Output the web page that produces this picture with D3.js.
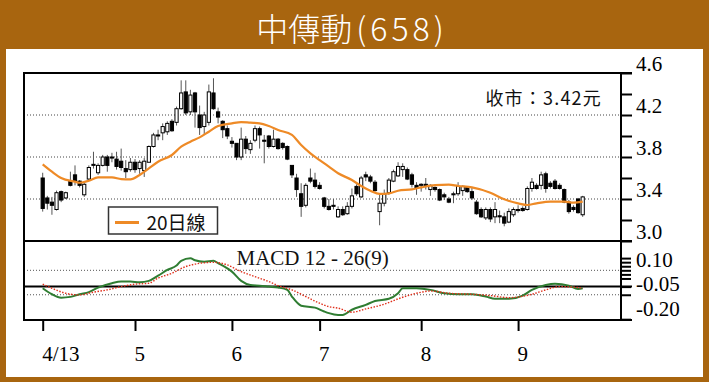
<!DOCTYPE html>
<html lang="zh-Hant">
<head>
<meta charset="utf-8">
<title>中傳動(658)</title>
<script src="https://cdn.jsdelivr.net/npm/d3@7"></script>
<style>
  body { margin: 0; background: #a8650f; }
  svg { display: block; }
  .serif { font-family: "Liberation Serif", "Times New Roman", serif; }
  .sans { font-family: "Noto Sans CJK TC", "Noto Sans", sans-serif; }
</style>
</head>
<body>
<svg id="chart" width="709" height="382"></svg>
<script>
// daily candles, 4/13 .. end of Sep (trading day index = position in array)
const dayOpen  = [3.60,3.41,3.37,3.30,3.47,3.41,3.57,3.63,3.57,3.44, 3.59,3.72,3.65,3.72,3.80,3.80,3.78,3.76,3.69,3.68,
                  3.75,3.69,3.67,3.75,3.90,4.01,4.03,4.04,4.14,4.13, 4.26,4.42,4.23,4.41,4.20,4.09,4.13,4.41,4.23,4.14,
                  4.07,3.95,3.93,3.80,3.97,3.87,3.96,4.07,3.96,4.00, 3.90,3.97,3.93,3.90,3.72,3.60,3.45,3.34,3.60,3.58,
                  3.53,3.41,3.33,3.34,3.23,3.30,3.26,3.33,3.52,3.42, 3.63,3.61,3.56,3.28,3.36,3.46,3.57,3.62,3.68,3.68,
                  3.63,3.53,3.53,3.54,3.49,3.51,3.49,3.44,3.40,3.44, 3.45,3.48,3.51,3.47,3.37,3.30,3.22,3.30,3.23,3.24,
                  3.23,3.18,3.25,3.29,3.31,3.30,3.50,3.53,3.53,3.64, 3.55,3.57,3.53,3.49,3.37,3.32,3.40,3.25];
const dayHigh  = [3.65,3.43,3.42,3.48,3.48,3.47,3.66,3.72,3.58,3.57, 3.72,3.85,3.74,3.82,3.82,3.84,3.85,3.88,3.77,3.79,
                  3.78,3.77,3.79,3.91,4.03,4.06,4.12,4.14,4.16,4.28, 4.53,4.53,4.44,4.42,4.29,4.23,4.49,4.55,4.27,4.15,
                  4.10,3.99,3.93,4.08,4.00,3.96,4.10,4.09,4.01,4.01, 4.06,3.98,3.94,3.91,3.72,3.64,3.55,3.55,3.69,3.65,
                  3.56,3.42,3.40,3.40,3.33,3.33,3.37,3.50,3.54,3.62, 3.66,3.63,3.58,3.45,3.49,3.60,3.68,3.75,3.74,3.70,
                  3.65,3.56,3.55,3.60,3.54,3.52,3.50,3.46,3.42,3.47, 3.56,3.53,3.52,3.51,3.39,3.32,3.32,3.32,3.37,3.29,
                  3.27,3.31,3.32,3.34,3.33,3.52,3.60,3.55,3.66,3.66, 3.57,3.59,3.55,3.50,3.39,3.34,3.41,3.43];
const dayLow   = [3.28,3.30,3.25,3.29,3.37,3.40,3.52,3.53,3.51,3.42, 3.57,3.69,3.63,3.71,3.66,3.75,3.68,3.67,3.60,3.66,
                  3.65,3.64,3.61,3.75,3.89,3.96,3.96,4.01,4.04,4.10, 4.25,4.20,4.20,4.08,4.01,4.01,4.10,4.25,4.12,3.98,
                  3.97,3.89,3.77,3.77,3.83,3.83,3.94,3.88,3.74,3.88, 3.89,3.87,3.87,3.77,3.60,3.42,3.23,3.32,3.55,3.50,
                  3.49,3.31,3.29,3.30,3.22,3.24,3.25,3.31,3.43,3.41, 3.57,3.55,3.47,3.15,3.33,3.44,3.56,3.61,3.61,3.58,
                  3.51,3.44,3.47,3.49,3.43,3.47,3.38,3.39,3.36,3.36, 3.43,3.43,3.46,3.39,3.25,3.22,3.20,3.18,3.17,3.17,
                  3.14,3.17,3.23,3.27,3.28,3.29,3.47,3.49,3.49,3.46, 3.50,3.49,3.49,3.36,3.26,3.28,3.26,3.23];
const dayClose = [3.31,3.36,3.34,3.46,3.39,3.46,3.53,3.57,3.53,3.54, 3.70,3.73,3.72,3.80,3.72,3.79,3.71,3.70,3.66,3.75,
                  3.68,3.75,3.76,3.90,4.01,4.00,4.09,4.12,4.05,4.26, 4.41,4.22,4.39,4.23,4.08,4.20,4.42,4.26,4.18,4.06,
                  4.00,3.93,3.80,3.97,3.88,3.93,4.07,4.01,3.95,3.90, 3.97,3.88,3.89,3.78,3.63,3.49,3.33,3.53,3.57,3.52,
                  3.50,3.33,3.30,3.33,3.30,3.25,3.33,3.43,3.45,3.60, 3.61,3.57,3.48,3.36,3.45,3.58,3.66,3.71,3.71,3.59,
                  3.54,3.50,3.54,3.52,3.53,3.49,3.39,3.42,3.37,3.45, 3.52,3.52,3.47,3.41,3.26,3.23,3.30,3.21,3.30,3.23,
                  3.17,3.28,3.30,3.30,3.29,3.50,3.56,3.50,3.63,3.50, 3.52,3.50,3.50,3.37,3.28,3.30,3.27,3.42];

// 20-day moving average
const maDay   = [0,2,4,7,8,10,12,15,17,19,21,23,25,28,30,32,34,36,38,41,43,45,47,49,51,54,56,58,60,62,
                 64,67,69,71,73,75,77,80,82,85,88,90,93,97,100,103,105,107,110,113,115,117];
const maValue = [3.73,3.66,3.60,3.565,3.555,3.574,3.606,3.606,3.59,3.587,3.629,3.692,3.755,3.819,3.898,3.946,3.987,4.041,4.095,4.121,
                 4.133,4.127,4.121,4.095,4.057,4.01,3.914,3.835,3.771,3.708,3.645,3.581,3.524,3.479,3.448,3.454,3.479,3.492,3.511,3.533,
                 3.536,3.524,3.511,3.46,3.397,3.359,3.343,3.359,3.375,3.375,3.365,3.375];

// MACD 12-26(9)
const difDay   = [0,2,4,6,8,10,12,15,17,19,21,23,25,27,29,30,32,33,35,37,38,41,43,45,47,49,51,53,54,56,
                  59,61,62,64,65,67,70,72,75,77,78,81,84,87,90,93,96,98,101,104,106,109,111,114,116,117];
const difValue = [-0.01,-0.047,-0.068,-0.063,-0.047,-0.034,-0.006,0.021,0.031,0.031,0.027,0.035,0.067,0.102,0.129,0.158,0.174,0.162,0.153,0.158,
                  0.144,0.092,0.035,0.010,0.006,0,-0.006,-0.02,-0.061,-0.117,-0.129,-0.153,-0.163,-0.174,-0.174,-0.142,-0.112,-0.088,-0.075,-0.041,
                  -0.01,-0.01,-0.02,-0.041,-0.047,-0.047,-0.061,-0.075,-0.075,-0.055,-0.02,0.01,0.018,0.006,-0.014,-0.01];
const sigDay   = [0,2,5,8,11,14,17,20,23,25,28,31,34,37,40,43,46,49,51,54,57,60,62,64,67,70,74,77,81,84,
                  88,93,97,101,106,109,112,116,117];
const sigValue = [0.015,-0.01,-0.041,-0.051,-0.034,-0.02,0,0.015,0.021,0.052,0.082,0.123,0.143,0.149,0.133,0.092,0.061,0.031,0.006,-0.02,
                  -0.061,-0.102,-0.123,-0.132,-0.157,-0.137,-0.108,-0.075,-0.041,-0.027,-0.041,-0.047,-0.055,-0.068,-0.047,-0.02,0,-0.006,-0.01];

const monthTicks  = [0, 20, 41, 60, 82, 103];
const monthLabels = ["4/13", "5", "6", "7", "8", "9"];
const priceTicks  = [3.0, 3.2, 3.4, 3.6, 3.8, 4.0, 4.2, 4.4, 4.6];
const priceLabels = [3.0, 3.4, 3.8, 4.2, 4.6];
const priceGrid   = [3.4, 3.8, 4.2];
const macdTicks   = [0.175, 0.15, 0.125, 0.10, 0.075, 0.05, 0, -0.05, -0.20];
const macdLabels  = [0.10, -0.05, -0.20];
const macdGrid    = [0.10, -0.05];

const svg = d3.select("#chart");
const plotL = 24, plotR = 621, priceTop = 73, split = 241, macdBot = 320;

const x = d3.scaleLinear().domain([0, 117]).range([42.7, 582.7]);
const yP = d3.scaleLinear().domain([3.0, 4.6]).range([split, priceTop]);
const yM = d3.scaleLinear().domain([-0.205, 0.28]).range([macdBot, split]);

// frame
svg.append("rect").attr("width", 709).attr("height", 382).attr("fill", "#a8650f");
svg.append("rect").attr("x", 6).attr("y", 49).attr("width", 697).attr("height", 328).attr("fill", "#fff");
const title = svg.append("text").attr("class", "sans")
  .attr("x", 352).attr("y", 41).attr("text-anchor", "middle")
  .attr("font-size", 32).attr("font-weight", 300).attr("fill", "#fff");
title.append("tspan").text("中傳動");
title.append("tspan").attr("dx", 4).attr("letter-spacing", 4).text("(658)");

// grid
svg.append("g").selectAll("line").data(priceGrid).join("line")
  .attr("x1", plotL).attr("x2", plotR).attr("y1", d => yP(d)).attr("y2", d => yP(d))
  .attr("stroke", "#444").attr("stroke-dasharray", "1,2");
svg.append("g").selectAll("line").data(macdGrid).join("line")
  .attr("x1", plotL).attr("x2", plotR).attr("y1", d => yM(d)).attr("y2", d => yM(d))
  .attr("stroke", "#555").attr("stroke-dasharray", "1,2");

// candles
const candles = dayOpen.map((o, i) => ({ i, o, h: dayHigh[i], l: dayLow[i], c: dayClose[i] }));
const gc = svg.append("g");
gc.selectAll("line").data(candles).join("line")
  .attr("x1", d => x(d.i)).attr("x2", d => x(d.i))
  .attr("y1", d => yP(d.h)).attr("y2", d => yP(d.l))
  .attr("stroke", "#555").attr("stroke-width", 1);
gc.selectAll("rect").data(candles).join("rect")
  .attr("x", d => x(d.i) - 1.6).attr("width", 3.2)
  .attr("y", d => yP(Math.max(d.o, d.c)))
  .attr("height", d => Math.max(1, Math.abs(yP(d.o) - yP(d.c))))
  .attr("fill", d => d.c > d.o ? "#fff" : "#000")
  .attr("stroke", "#000").attr("stroke-width", 1);

// 20 day line
const maLine = d3.line().x((d, k) => x(maDay[k])).y(d => yP(d)).curve(d3.curveMonotoneX);
svg.append("path").attr("d", maLine(maValue))
  .attr("fill", "none").attr("stroke", "#ee8a26").attr("stroke-width", 2.2);

// MACD
svg.append("line").attr("x1", plotL).attr("x2", plotR + 11)
  .attr("y1", yM(0)).attr("y2", yM(0)).attr("stroke", "#000").attr("stroke-width", 2);
const difLine = d3.line().x((d, k) => x(difDay[k])).y(d => yM(d)).curve(d3.curveMonotoneX);
const sigLine = d3.line().x((d, k) => x(sigDay[k])).y(d => yM(d)).curve(d3.curveMonotoneX);
svg.append("path").attr("d", difLine(difValue))
  .attr("fill", "none").attr("stroke", "#2f7d32").attr("stroke-width", 2);
svg.append("path").attr("d", sigLine(sigValue))
  .attr("fill", "none").attr("stroke", "#e0301c").attr("stroke-width", 1.4).attr("stroke-dasharray", "1.5,1.5");

// borders
const border = [[plotL, priceTop, plotR + 11, priceTop], [plotL, split, plotR + 11, split],
                [plotL, macdBot, plotR + 11, macdBot], [plotL, priceTop - 1, plotL, macdBot + 1],
                [plotR, priceTop - 1, plotR, macdBot + 1]];
svg.append("g").selectAll("line").data(border).join("line")
  .attr("x1", d => d[0]).attr("y1", d => d[1]).attr("x2", d => d[2]).attr("y2", d => d[3])
  .attr("stroke", "#000").attr("stroke-width", 2);

// axes
const axP = svg.append("g").attr("transform", `translate(${plotR},0)`)
  .call(d3.axisRight(yP).tickValues(priceTicks).tickSize(11).tickFormat(""));
axP.select(".domain").remove();
axP.selectAll(".tick line").attr("stroke", "#000").attr("stroke-width", 2);

const axM = svg.append("g").attr("transform", `translate(${plotR},0)`)
  .call(d3.axisRight(yM).tickValues(macdTicks).tickSize(10).tickFormat(""));
axM.select(".domain").remove();
axM.selectAll(".tick line").attr("stroke", "#000").attr("stroke-width", 2);

const axX = svg.append("g").attr("transform", `translate(0,${macdBot + 1})`)
  .call(d3.axisBottom(x).tickValues(monthTicks).tickSize(10).tickFormat(""));
axX.select(".domain").remove();
axX.selectAll(".tick line").attr("stroke", "#000").attr("stroke-width", 2);

svg.append("g").selectAll("text").data(priceLabels).join("text")
  .attr("class", "serif").attr("x", plotR + 15).attr("y", d => yP(d) - 2.5)
  .attr("font-size", 21).attr("fill", "#000").text(d => d.toFixed(1));
svg.append("g").selectAll("text").data(macdLabels).join("text")
  .attr("class", "serif").attr("x", plotR + 15).attr("y", d => yM(d) - 3.5)
  .attr("font-size", 21).attr("fill", "#000").text(d => d.toFixed(2));
svg.append("g").selectAll("text").data(monthTicks).join("text")
  .attr("class", "serif").attr("x", d => x(d) - 0.5).attr("y", 361)
  .attr("font-size", 21).attr("fill", "#000").text((d, k) => monthLabels[k]);

// captions
svg.append("text").attr("class", "sans").attr("x", 602).attr("y", 105)
  .attr("text-anchor", "end").attr("font-size", 18).attr("letter-spacing", 1.2)
  .attr("fill", "#111").text("收市：3.42元");
svg.append("text").attr("class", "serif").attr("x", 236.5).attr("y", 264.5)
  .attr("font-size", 21).attr("fill", "#111").text("MACD 12 - 26(9)");

// legend
const lg = svg.append("g");
lg.append("rect").attr("x", 108.5).attr("y", 207).attr("width", 109).attr("height", 27)
  .attr("fill", "#fff").attr("stroke", "#333").attr("stroke-width", 1.5);
lg.append("line").attr("x1", 115).attr("x2", 139).attr("y1", 222.5).attr("y2", 222.5)
  .attr("stroke", "#ee8a26").attr("stroke-width", 3);
lg.append("text").attr("class", "sans").attr("x", 146.5).attr("y", 229.5)
  .attr("font-size", 19).attr("fill", "#111").text("20日線");
</script>
</body>
</html>
